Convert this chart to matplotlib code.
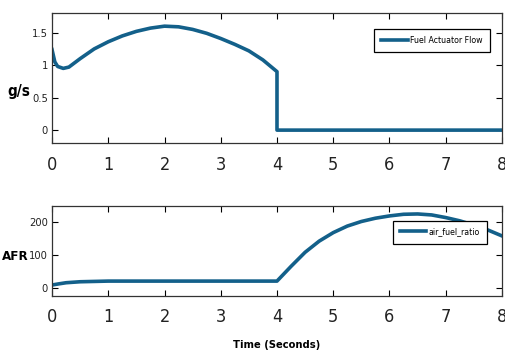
import matplotlib
matplotlib.use('Agg')
import matplotlib.pyplot as plt

# fuel actuator flow (g/s)
fuel_t = [0, 0.05, 0.1, 0.2, 0.3, 0.5, 0.75, 1, 1.25, 1.5, 1.75, 2, 2.25, 2.5,
          2.75, 3, 3.25, 3.5, 3.75, 4, 4, 8]
fuel_flow = [1.24, 1.05, 0.98, 0.95, 0.97, 1.1, 1.25, 1.36, 1.45, 1.52, 1.57, 1.6,
             1.59, 1.55, 1.49, 1.41, 1.32, 1.22, 1.08, 0.9, 0, 0]

# air fuel ratio
afr_t = [0, 0.1, 0.25, 0.5, 0.75, 1, 4, 4.25, 4.5, 4.75, 5, 5.25, 5.5, 5.75, 6,
         6.25, 6.5, 6.75, 7, 7.25, 7.5, 7.75, 8]
afr = [8, 11, 15, 18, 19, 20, 20, 65, 108, 142, 168, 188, 202, 212, 219,
       224, 225, 222, 214, 204, 191, 176, 158]

xticks = [0, 1, 2, 3, 4, 5, 6, 7, 8]

line_color = '#13608a'
cond = dict(family='DejaVu Sans', stretch='condensed')

fig = plt.figure(figsize=(5.05, 3.56), dpi=100)
ax1 = fig.add_axes([0.103, 0.598, 0.891, 0.365])
ax2 = fig.add_axes([0.103, 0.169, 0.891, 0.253])

ax1.plot(fuel_t, fuel_flow, color=line_color, lw=2.6, label='Fuel Actuator Flow')
ax1.set_ylim(-0.2, 1.8)
ax1.set_yticks([0, 0.5, 1, 1.5])
ax1.set_yticklabels(['0', '0.5', '1', '1.5'])
ax1.set_ylabel('g/s', fontsize=11, fontweight='bold', rotation=0, va='center', **cond)
ax1.yaxis.set_label_coords(-0.073, 0.395)

ax2.plot(afr_t, afr, color=line_color, lw=2.6, label='air_fuel_ratio')
ax2.set_ylim(-25, 250)
ax2.set_yticks([0, 100, 200])
ax2.set_ylabel('AFR', fontsize=9.5, fontweight='bold', rotation=0, va='center', **cond)
ax2.yaxis.set_label_coords(-0.082, 0.44)
ax2.set_xlabel('Time (Seconds)', fontsize=8, fontweight='bold', labelpad=10, **cond)

for ax in (ax1, ax2):
    ax.set_xlim(0, 8)
    ax.set_xticks(xticks)
    ax.tick_params(direction='in', top=True, right=True, length=4, width=0.8)
    ax.tick_params(axis='x', labelsize=13, pad=9)
    ax.tick_params(axis='y', labelsize=8, pad=3)
    for lab in ax.get_xticklabels() + ax.get_yticklabels():
        lab.set_family('DejaVu Sans')
        lab.set_stretch('condensed')
        lab.set_color('#222222')
    for s in ax.spines.values():
        s.set_linewidth(0.9)
        s.set_color('#333333')

leg_font = {'family': 'DejaVu Sans', 'stretch': 'condensed', 'size': 6.3}
leg1 = ax1.legend(loc='upper right', bbox_to_anchor=(0.983, 0.915), fancybox=False,
                  edgecolor='black', prop=leg_font, handlelength=3.0,
                  handletextpad=0.3, borderpad=0.8, framealpha=1)
leg1.get_frame().set_linewidth(0.9)
leg2 = ax2.legend(loc='upper right', bbox_to_anchor=(0.976, 0.885), fancybox=False,
                  edgecolor='black', prop=leg_font, handlelength=3.0,
                  handletextpad=0.3, borderpad=0.8, framealpha=1)
leg2.get_frame().set_linewidth(0.9)

fig.savefig('out.png', dpi=100)
